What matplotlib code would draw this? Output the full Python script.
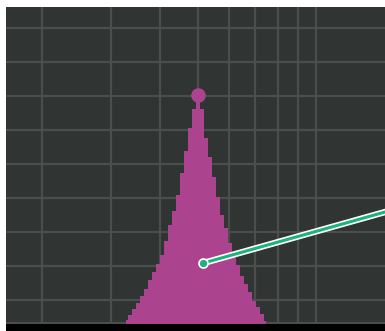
import matplotlib

matplotlib.use("Agg")

import matplotlib.pyplot as plt
import matplotlib.patheffects as pe
from matplotlib.patches import Rectangle
from matplotlib.ticker import NullLocator

# step profile of the peak (log-spaced bin centres, heights in grid units)
bin_x = [
    3.28, 3.35, 3.43, 3.51, 3.60, 3.68, 3.77, 3.86, 3.95, 4.05, 4.14, 4.24,
    4.34, 4.45, 4.55, 4.66, 4.77, 4.88, 5.00, 5.12, 5.24, 5.37, 5.49, 5.62,
    5.76, 5.89, 6.03, 6.18, 6.32, 6.47, 6.63, 6.79, 6.95, 7.11, 7.28, 7.45,
]
bin_y = [
    0.09, 0.24, 0.41, 0.59, 0.79, 1.00, 1.26, 1.50, 1.74, 2.00, 2.41, 2.88,
    3.29, 3.76, 4.41, 5.06, 5.74, 6.30, 6.60, 6.30, 5.44, 4.88, 4.29, 3.71,
    3.18, 2.79, 2.35, 2.05, 1.71, 1.38, 1.15, 0.91, 0.65, 0.47, 0.26, 0.06,
]
peak_x = 5.0
peak_y = 6.71

# annotation leader line
leader_x = [5.15, 16.4]
leader_y = [1.76, 3.39]

x_grid = [2, 3, 4, 5, 6, 7, 8, 9, 10]
y_grid = [0, 0.68, 1.68, 2.68, 3.68, 4.68, 5.68, 6.68, 7.68, 8.68]

BG = "#303433"
GRID = "#4a4e4c"
MAGENTA = "#ab438e"
GREEN = "#1db282"

fig = plt.figure(figsize=(3.85, 3.31), dpi=100, facecolor="white")
ax = fig.add_axes([6 / 385, 0, 379 / 385, 324 / 331])
ax.set_facecolor(BG)
ax.set_xscale("log")
ax.set_xlim(1.62, 15.0)
ax.set_ylim(-0.235, 9.294)

ax.set_xticks(x_grid)
ax.set_yticks(y_grid)
ax.xaxis.set_minor_locator(NullLocator())
ax.tick_params(length=0, labelbottom=False, labelleft=False)
ax.grid(True, color=GRID, linewidth=1.6)
ax.set_axisbelow(True)
for spine in ax.spines.values():
    spine.set_visible(False)

ax.fill_between(bin_x, -0.235, bin_y, step="mid", color=MAGENTA, linewidth=0, zorder=2)
ax.plot([peak_x], [peak_y], "o", color=MAGENTA, markersize=10.5, markeredgewidth=0, zorder=3)

ax.plot(
    leader_x, leader_y, color=GREEN, linewidth=2.2, solid_capstyle="round", zorder=4,
    path_effects=[pe.Stroke(linewidth=4.6, foreground="white"), pe.Normal()],
)
ax.plot(
    leader_x[:1], leader_y[:1], "o", color=GREEN, markersize=6.5,
    markeredgecolor="white", markeredgewidth=1.2, zorder=5,
)

fig.add_artist(Rectangle((6 / 385, 0), 379 / 385, 7 / 331, transform=fig.transFigure,
                         facecolor="black", edgecolor="none", zorder=10))

fig.savefig("out.png", dpi=100, facecolor="white")
